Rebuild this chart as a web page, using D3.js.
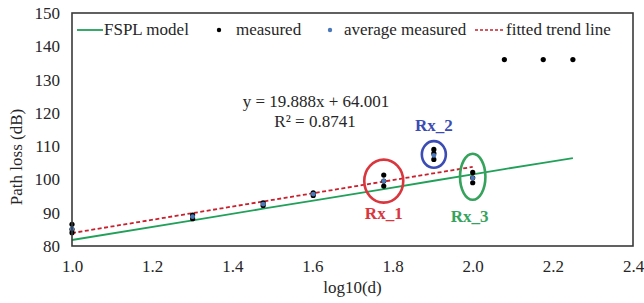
<!DOCTYPE html>
<html lang="en">
<head>
<meta charset="UTF-8">
<title>Path loss vs log10(d)</title>
<script src="https://d3js.org/d3.v7.min.js"></script>
<style>
  body { margin: 0; background: #fff; }
  text { font-family: "Liberation Serif", "Times New Roman", serif; fill: #262626; }
</style>
</head>
<body>
<svg width="644" height="303"></svg>
<script>
// log10 of distance for each measurement position
const logd = [1.0, 1.301, 1.477, 1.602, 1.778, 1.903, 2.0, 2.079, 2.176, 2.25];
// FSPL model at each position (dB)
const fspl = [81.8, 87.7, 91.2, 93.6, 97.1, 99.6, 101.5, 103.1, 105.0, 106.4];
// individual measurements (dB), one list per position
const measured = [
  [86.5, 85.0, 84.0],
  [89.3, 88.2],
  [93.0, 92.2],
  [96.0, 95.2],
  [101.3, 99.5, 98.0],
  [109.0, 107.8, 106.0],
  [102.1, 100.5, 99.0],
  [136],
  [136],
  [136]
];
// average of measurements (first 7 positions only)
const avgMeasured = [85.2, 88.8, 92.6, 95.6, 99.5, 107.2, 100.4];
// linear trend fit
const slope = 19.888, intercept = 64.001, r2 = 0.8741;
const fitRange = [1.0, 2.0];
// receiver groups
const rxLabels = ["Rx_1", "Rx_2", "Rx_3"];
const rxX = [1.778, 1.903, 2.0];
const rxY = [99.5, 107.5, 100.8];
const rxColors = ["#d9363e", "#3b4cb5", "#36a35c"];

const xTicks = [1.0, 1.2, 1.4, 1.6, 1.8, 2.0, 2.2, 2.4];
const yTicks = [80, 90, 100, 110, 120, 130, 140, 150];

const svg = d3.select("svg");
const m = { left: 72, right: 633, top: 13, bottom: 246 };

const x = d3.scaleLinear().domain([1.0, 2.4]).range([m.left, m.right]);
const y = d3.scaleLinear().domain([80, 150]).range([m.bottom, m.top]);

// axes (labels only, no tick marks)
const xAxis = svg.append("g")
  .attr("transform", `translate(0,${m.bottom})`)
  .call(d3.axisBottom(x).tickValues(xTicks).tickFormat(d3.format(".1f")).tickSize(0).tickPadding(14));
const yAxis = svg.append("g")
  .attr("transform", `translate(${m.left},0)`)
  .call(d3.axisLeft(y).tickValues(yTicks).tickSize(0).tickPadding(12));
[xAxis, yAxis].forEach(a => {
  a.select(".domain").remove();
  a.selectAll("text").attr("font-size", 17)
    .style("font-family", '"Liberation Serif", serif').attr("fill", "#262626");
});

// FSPL line
const line = d3.line().x(d => x(d[0])).y(d => y(d[1]));
svg.append("path")
  .datum(logd.map((d, i) => [d, fspl[i]]))
  .attr("d", line)
  .attr("fill", "none").attr("stroke", "#21a05a").attr("stroke-width", 1.8);

// fitted trend line
svg.append("path")
  .datum(fitRange.map(v => [v, slope * v + intercept]))
  .attr("d", line)
  .attr("fill", "none").attr("stroke", "#c8202c").attr("stroke-width", 1.8)
  .attr("stroke-dasharray", "4,2.5");

// measured points
const pts = [];
measured.forEach((arr, i) => arr.forEach(v => pts.push([logd[i], v])));
svg.append("g").selectAll("circle")
  .data(pts).enter().append("circle")
  .attr("cx", d => x(d[0])).attr("cy", d => y(d[1]))
  .attr("r", 2.6).attr("fill", "#000");

// average points
svg.append("g").selectAll("circle")
  .data(avgMeasured).enter().append("circle")
  .attr("cx", (d, i) => x(logd[i])).attr("cy", d => y(d))
  .attr("r", 2.4).attr("fill", "#4a78b8");

// receiver ellipses + labels
const rxR = [[19.5, 21.5], [12, 13.3], [12.7, 23]];
const rxLabelDy = [38, -23, 45];
rxLabels.forEach((lab, i) => {
  svg.append("ellipse")
    .attr("cx", x(rxX[i])).attr("cy", y(rxY[i]))
    .attr("rx", rxR[i][0]).attr("ry", rxR[i][1])
    .attr("fill", "none").attr("stroke", rxColors[i]).attr("stroke-width", 2.6);
  svg.append("text")
    .attr("x", x(rxX[i]) + (i === 2 ? -3 : 0))
    .attr("y", y(rxY[i]) + rxLabelDy[i])
    .attr("text-anchor", "middle").attr("font-size", 17).attr("font-weight", "bold")
    .style("fill", rxColors[i])
    .text(lab);
});

// equation
svg.append("text").attr("x", 316).attr("y", 107).attr("text-anchor", "middle")
  .attr("font-size", 17).text(`y = ${slope}x + ${intercept.toFixed(3)}`);
svg.append("text").attr("x", 315).attr("y", 127).attr("text-anchor", "middle")
  .attr("font-size", 17).text(`R² = ${r2}`);

// plot frame
svg.append("rect")
  .attr("x", m.left).attr("y", m.top)
  .attr("width", m.right - m.left).attr("height", m.bottom - m.top)
  .attr("fill", "none").attr("stroke", "#3a3a3a").attr("stroke-width", 1.6);

// legend
const lg = svg.append("g").attr("font-size", 17);
const ly = 30;
lg.append("line").attr("x1", 77).attr("x2", 103).attr("y1", ly).attr("y2", ly)
  .attr("stroke", "#21a05a").attr("stroke-width", 1.8);
lg.append("text").attr("x", 104).attr("y", ly + 5).text("FSPL model");
lg.append("circle").attr("cx", 219).attr("cy", ly).attr("r", 2.2).attr("fill", "#000");
lg.append("text").attr("x", 236).attr("y", ly + 5).text("measured");
lg.append("circle").attr("cx", 330).attr("cy", ly).attr("r", 2.2).attr("fill", "#4a78b8");
lg.append("text").attr("x", 344).attr("y", ly + 5).text("average measured");
lg.append("line").attr("x1", 475).attr("x2", 505).attr("y1", ly).attr("y2", ly)
  .attr("stroke", "#c8202c").attr("stroke-width", 1.6).attr("stroke-dasharray", "3,2");
lg.append("text").attr("x", 506).attr("y", ly + 5).text("fitted trend line");

// axis titles
svg.append("text").attr("x", (m.left + m.right) / 2).attr("y", 293)
  .attr("text-anchor", "middle").attr("font-size", 17).text("log10(d)");
svg.append("text").attr("transform", "translate(22,157) rotate(-90)")
  .attr("text-anchor", "middle").attr("font-size", 17).text("Path loss (dB)");
</script>
</body>
</html>
